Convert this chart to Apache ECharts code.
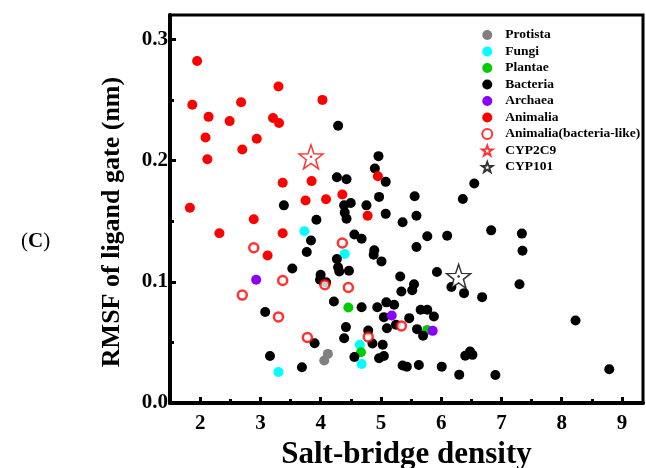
<!DOCTYPE html>
<html>
<head>
<meta charset="utf-8">
<script src="https://cdn.jsdelivr.net/npm/echarts@6/dist/echarts.min.js"></script>
<style>
  html, body { margin: 0; padding: 0; background: #fff; }
  #main { width: 646px; height: 468px; }
</style>
</head>
<body>
<div id="main"></div>
<script>
// point data: [salt-bridge density, RMSF (nm)]
var protista = [[4.06, 0.035], [4.12, 0.0405]];
var fungi = [[3.73, 0.1416], [3.30, 0.0256], [4.40, 0.1229], [4.65, 0.048], [4.68, 0.0322]];
var plantae = [[4.46, 0.0788], [4.67, 0.0419], [5.77, 0.0603]];
var bacteria = [
    [4.29, 0.2287], [4.96, 0.2036], [4.90, 0.1934], [4.27, 0.1862], [4.43, 0.1846], [5.08, 0.1824],
    [6.55, 0.181], [4.97, 0.170], [5.56, 0.1705], [6.36, 0.1683], [4.39, 0.163], [4.50, 0.165],
    [4.76, 0.163], [3.39, 0.163], [4.40, 0.157], [4.43, 0.152], [5.08, 0.156], [5.59, 0.1545],
    [5.36, 0.149], [4.56, 0.139], [4.68, 0.1355], [5.77, 0.1375], [6.10, 0.138], [6.83, 0.1424],
    [5.59, 0.1287], [4.89, 0.126], [4.88, 0.1223], [5.01, 0.1168], [4.27, 0.1188], [4.29, 0.112],
    [4.31, 0.1085], [4.47, 0.109], [5.93, 0.108], [5.32, 0.1044], [5.55, 0.098], [5.52, 0.093],
    [5.34, 0.092], [6.17, 0.0956], [6.38, 0.0906], [6.68, 0.0873], [4.22, 0.0837], [4.68, 0.079],
    [4.94, 0.079], [5.09, 0.083], [5.22, 0.081], [5.05, 0.0708], [5.47, 0.070], [5.66, 0.0769],
    [5.77, 0.0769], [5.88, 0.0713], [5.10, 0.0617], [5.25, 0.0645], [5.60, 0.0609], [5.70, 0.0554],
    [4.42, 0.0626], [4.39, 0.0534], [4.79, 0.0598], [4.86, 0.049], [5.03, 0.048], [4.56, 0.038],
    [4.97, 0.0369], [5.05, 0.0388], [5.36, 0.0309], [5.43, 0.030], [5.63, 0.0314], [6.01, 0.030],
    [6.48, 0.0424], [6.52, 0.0397], [6.40, 0.039], [6.30, 0.0234], [3.93, 0.1512], [3.84, 0.134],
    [3.77, 0.1245], [3.53, 0.111], [4.00, 0.1058], [3.99, 0.1017], [4.09, 0.0995], [3.08, 0.075],
    [3.16, 0.0388], [3.69, 0.0295], [3.90, 0.0493], [7.34, 0.1397], [7.35, 0.1256], [7.30, 0.098],
    [8.23, 0.068], [6.90, 0.0231], [8.79, 0.0278]
];
var archaea = [[2.93, 0.1017], [5.18, 0.0722], [5.86, 0.0595]];
var animalia = [
    [1.95, 0.282], [1.87, 0.246], [2.14, 0.236], [2.68, 0.248], [2.49, 0.2325], [2.09, 0.219],
    [2.12, 0.201], [2.70, 0.209], [2.94, 0.218], [3.30, 0.261], [3.21, 0.235], [3.31, 0.231],
    [4.03, 0.250], [3.37, 0.1816], [3.85, 0.183], [3.75, 0.167], [4.09, 0.168], [1.83, 0.161],
    [4.95, 0.187], [4.36, 0.172], [2.89, 0.1515], [2.32, 0.140], [3.37, 0.140], [3.12, 0.1217],
    [4.78, 0.1545]
];
var animaliaBL = [
    [2.89, 0.128], [3.37, 0.101], [2.70, 0.089], [3.30, 0.071], [3.78, 0.054], [4.07, 0.0975],
    [4.36, 0.132], [4.46, 0.0953], [5.34, 0.0636], [4.79, 0.0545]
];
var cyp2c9 = [[3.84, 0.203]];
var cyp101 = [[6.29, 0.1044]];

var xMajor = [2, 3, 4, 5, 6, 7, 8, 9];
var xMinor = [2.5, 3.5, 4.5, 5.5, 6.5, 7.5, 8.5];
var yMajor = [0, 0.1, 0.2, 0.3];
var yMinor = [0.05, 0.15, 0.25];

var serif = 'Liberation Serif';
var star = 'path://M0,-10L2.35,-3.24L9.51,-3.09L3.8,1.24L5.88,8.09L0,4L-5.88,8.09L-3.8,1.24L-9.51,-3.09L-2.35,-3.24Z';

function dots(name, data, color) {
    return {
        name: name, type: 'scatter', data: data,
        symbol: 'circle', symbolSize: 10,
        itemStyle: { color: color, opacity: 1 }
    };
}

var chart = echarts.init(document.getElementById('main'));
chart.setOption({
    animation: false,
    backgroundColor: '#fff',
    grid: {
        left: 170, right: 3, top: 15, bottom: 65,
        outerBoundsMode: 'none', containLabel: false,
        show: true, borderColor: '#000', borderWidth: 3
    },
    legend: {
        orient: 'vertical', left: 476, top: 23,
        itemWidth: 14, itemHeight: 10, itemGap: 2.5,
        textStyle: {
            fontFamily: serif, fontWeight: 'bold', fontSize: 13.5, color: '#000',
            lineHeight: 13, padding: [0, 0, 0, 6]
        },
        data: ['Protista', 'Fungi', 'Plantae', 'Bacteria', 'Archaea', 'Animalia',
            'Animalia(bacteria-like)', 'CYP2C9', 'CYP101']
    },
    xAxis: [{
        type: 'value', min: 1.5, max: 9.35,
        name: 'Salt-bridge density', nameLocation: 'middle', nameGap: 36,
        nameTextStyle: { fontFamily: serif, fontWeight: 'bold', fontSize: 31, color: '#000' },
        axisLine: { lineStyle: { color: '#000', width: 4 } },
        axisTick: { inside: true, length: 6, lineStyle: { width: 3, color: '#000' }, customValues: xMajor },
        axisLabel: { customValues: xMajor, margin: 10, fontFamily: serif, fontWeight: 'bold', fontSize: 21, color: '#000' },
        splitLine: { show: false }
    }, {
        type: 'value', min: 1.5, max: 9.35, position: 'bottom',
        axisLine: { show: false },
        axisTick: { inside: true, length: 4, lineStyle: { width: 3, color: '#000' }, customValues: xMinor },
        axisLabel: { show: false },
        splitLine: { show: false }
    }],
    yAxis: [{
        type: 'value', min: 0, max: 0.32,
        axisLine: { lineStyle: { color: '#000', width: 4 } },
        axisTick: { inside: true, length: 6, lineStyle: { width: 3, color: '#000' }, customValues: yMajor },
        axisLabel: {
            customValues: yMajor, margin: 2,
            fontFamily: serif, fontWeight: 'bold', fontSize: 21, color: '#000',
            formatter: function (v) { return v.toFixed(1); }
        },
        splitLine: { show: false }
    }, {
        type: 'value', min: 0, max: 0.32, position: 'left',
        axisLine: { show: false },
        axisTick: { inside: true, length: 4, lineStyle: { width: 3, color: '#000' }, customValues: yMinor },
        axisLabel: { show: false },
        splitLine: { show: false }
    }],
    graphic: [{
        type: 'text', left: 21, top: 231,
        style: {
            text: '{a|(}{b|C}{a|)}',
            rich: {
                a: { fontFamily: serif, fontSize: 21, fill: '#000' },
                b: { fontFamily: serif, fontSize: 21, fontWeight: 'bold', fill: '#000' }
            }
        }
    }, {
        type: 'text', x: 112, y: 222, rotation: Math.PI / 2,
        style: {
            text: 'RMSF of ligand gate (nm)',
            fontFamily: serif, fontWeight: 'bold', fontSize: 26, fill: '#000',
            align: 'center', verticalAlign: 'middle'
        }
    }],
    series: [
        dots('Protista', protista, '#808080'),
        dots('Fungi', fungi, '#00ffff'),
        dots('Plantae', plantae, '#00cc00'),
        dots('Bacteria', bacteria, '#000000'),
        dots('Archaea', archaea, '#8a00ff'),
        dots('Animalia', animalia, '#ff0000'),
        {
            name: 'Animalia(bacteria-like)', type: 'scatter', data: animaliaBL,
            symbol: 'circle', symbolSize: 9,
            itemStyle: { color: '#fff', borderColor: '#ff0000', borderWidth: 2.5 }
        },
        {
            name: 'CYP2C9', type: 'scatter', data: cyp2c9,
            symbol: star, symbolSize: 24,
            itemStyle: { color: '#fff', borderColor: '#ff0000', borderWidth: 1.5 }
        },
        {
            name: 'CYP101', type: 'scatter', data: cyp101,
            symbol: star, symbolSize: 24,
            itemStyle: { color: '#fff', borderColor: '#000', borderWidth: 1.5 }
        },
        // centre dots of the stars
        { type: 'scatter', data: cyp2c9, symbol: 'circle', symbolSize: 2.5, itemStyle: { color: '#ff0000' }, silent: true },
        { type: 'scatter', data: cyp101, symbol: 'circle', symbolSize: 2.5, itemStyle: { color: '#000' }, silent: true }
    ]
});
</script>
</body>
</html>
